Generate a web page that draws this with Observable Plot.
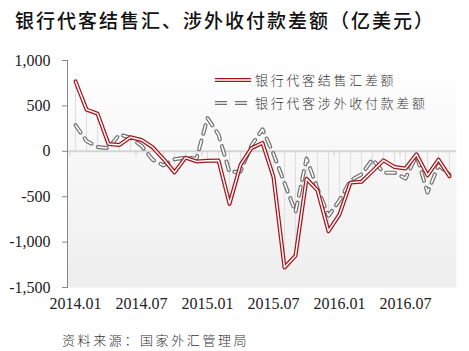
<!DOCTYPE html>
<html><head><meta charset="utf-8">
<script src="https://cdn.jsdelivr.net/npm/d3@7"></script>
<script src="https://cdn.jsdelivr.net/npm/@observablehq/plot@0.6"></script>
<style>
body{margin:0;background:#fff;width:469px;height:351px;overflow:hidden;position:relative;}
#title{position:absolute;left:15px;top:6px;font-family:"Noto Sans CJK SC";font-weight:500;font-size:19px;letter-spacing:2px;color:#111;white-space:nowrap;}
#src{position:absolute;left:62px;top:330px;font-family:"Noto Sans CJK SC";font-weight:300;font-size:13px;letter-spacing:2.6px;color:#333;white-space:nowrap;}
#chart{position:absolute;left:0;top:0;}
</style></head>
<body>
<div id="chart"></div>
<div id="title">银行代客结售汇、涉外收付款差额（亿美元）</div>
<div id="src">资料来源：国家外汇管理局</div>
<script>
const months = ["2014.01","2014.02","2014.03","2014.04","2014.05","2014.06","2014.07","2014.08","2014.09","2014.10","2014.11","2014.12",
"2015.01","2015.02","2015.03","2015.04","2015.05","2015.06","2015.07","2015.08","2015.09","2015.10","2015.11","2015.12",
"2016.01","2016.02","2016.03","2016.04","2016.05","2016.06","2016.07","2016.08","2016.09","2016.10","2016.11"];
const jshValues = [770,460,415,80,70,155,125,45,-85,-232,-70,-111,-105,-100,-579,-150,35,92,-284,-1280,-1150,-302,-431,-880,-695,-345,-335,-218,-100,-173,-190,-33,-265,-92,-276];
const swValues = [288,114,48,35,185,150,60,-90,-155,-88,-70,-81,365,185,-230,-222,66,242,-30,-350,-670,-80,-410,-710,-540,-321,-254,-88,-235,-235,-300,-45,-455,-155,-255];
const xTicks = ["2014.01","2014.07","2015.01","2015.07","2016.01","2016.07"];
const yTicks = [-1500,-1000,-500,0,500,1000];
const seriesNames = ["银行代客结售汇差额","银行代客涉外收付款差额"];

const jsh = months.map((m,i)=>({m, v: jshValues[i]}));
const sw = months.map((m,i)=>({m, v: swValues[i]}));
const fmt = d => d3.format(",")(d).replace("\u2212","-");
const dash = "9,7";

const svg = Plot.plot({
  width: 469, height: 351,
  marginLeft: 67, marginRight: 13, marginTop: 60, marginBottom: 64,
  style: {fontFamily: "Liberation Serif", fontSize: "16px", color: "#333", background: "transparent"},
  x: {type: "point", domain: months, padding: 0.5, label: null},
  y: {domain: [-1500, 1000], label: null},
  marks: [
    Plot.frame({fill: "#f5f5f5"}),
    Plot.ruleX(jsh, {x: "m", y1: 0, y2: "v", stroke: "#dedede", strokeWidth: 1}),
    Plot.ruleY([0], {stroke: "#d4d4d4", strokeWidth: 2}),
    Plot.ruleX(xTicks, {x: d => d, dx: -5.5, y1: 0, y2: -60, stroke: "#d0d0d0", strokeWidth: 1}),
    Plot.frame({anchor: "left", stroke: "#888", strokeWidth: 1}),
    Plot.axisY({ticks: yTicks, tickFormat: fmt, tickSize: 5, tickPadding: 12, stroke: "#888", fill: "#222"}),
    Plot.axisX({ticks: xTicks, tickSize: 0, tickPadding: 10, fill: "#222"}),
    Plot.line(sw, {x: "m", y: "v", stroke: "#707070", strokeWidth: 4, strokeDasharray: dash}),
    Plot.line(sw, {x: "m", y: "v", stroke: "#ffffff", strokeWidth: 1.6, strokeDasharray: dash}),
    Plot.line(jsh, {x: "m", y: "v", stroke: "#a3141b", strokeWidth: 4}),
    Plot.line(jsh, {x: "m", y: "v", stroke: "#ffffff", strokeWidth: 1.5})
  ]
});

const s = d3.select(svg);
const defs = s.insert("defs", ":first-child");
const g = defs.append("linearGradient").attr("id","bg").attr("x1",0).attr("y1",0).attr("x2",0).attr("y2",1);
g.append("stop").attr("offset","0%").attr("stop-color","#ffffff");
g.append("stop").attr("offset","100%").attr("stop-color","#eeeeee");
const f = svg.querySelector('[aria-label="frame"]');
const fr = f.tagName.toLowerCase()==="rect" ? f : f.querySelector("rect");
fr.setAttribute("fill","url(#bg)");

// legend
const lg = s.append("g").attr("text-anchor","start");
lg.append("line").attr("x1",215).attr("x2",251).attr("y1",80).attr("y2",80).attr("stroke","#a3141b").attr("stroke-width",4);
lg.append("line").attr("x1",215).attr("x2",251).attr("y1",80).attr("y2",80).attr("stroke","#fff").attr("stroke-width",1.5);
lg.append("line").attr("x1",215).attr("x2",247).attr("y1",103).attr("y2",103).attr("stroke","#707070").attr("stroke-width",4).attr("stroke-dasharray","12,8");
lg.append("line").attr("x1",215).attr("x2",247).attr("y1",103).attr("y2",103).attr("stroke","#fff").attr("stroke-width",1.6).attr("stroke-dasharray","12,8");
seriesNames.forEach((n,i)=>{
  lg.append("text").attr("x",255).attr("y",80 + i*23).attr("dy","0.36em").attr("text-anchor","start")
    .attr("font-family","Noto Sans CJK SC").attr("font-weight",300).attr("font-size",13)
    .attr("letter-spacing","2.7px").attr("fill","#333").text(n);
});
document.getElementById("chart").appendChild(svg);
</script>
</body></html>
